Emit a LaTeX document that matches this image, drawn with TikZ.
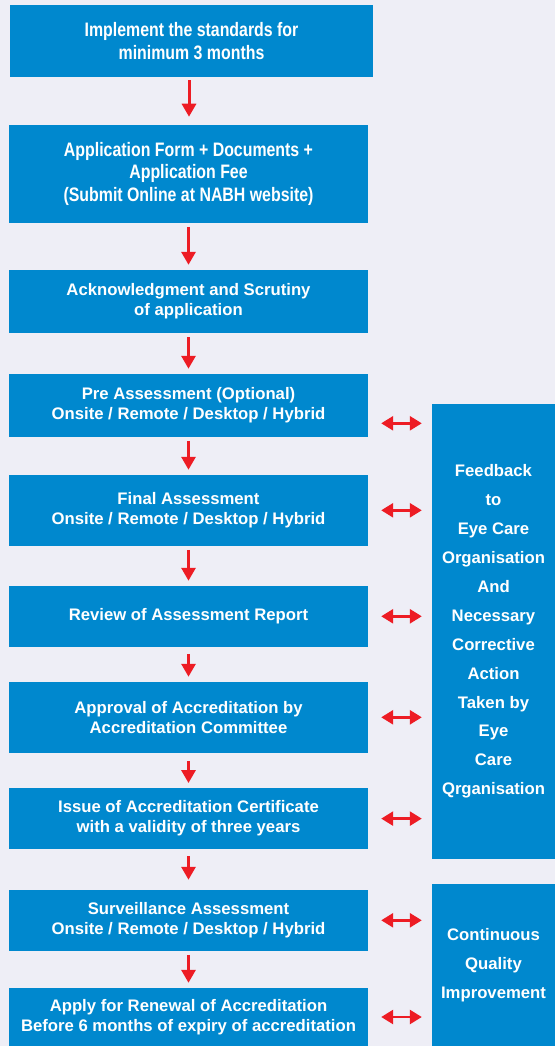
\documentclass[tikz,border=0pt]{standalone}
\usepackage{fontspec}
\setmainfont{Liberation Sans}
\newfontfamily\condfont{Liberation Sans}[FakeStretch=0.815]
\usetikzlibrary{arrows.meta}
\definecolor{bgc}{RGB}{238,238,246}
\definecolor{boxblue}{RGB}{0,136,206}
\definecolor{arrred}{RGB}{237,28,36}
\tikzset{
  stepbox/.style={fill=boxblue, text=white, inner sep=0pt, align=center,
    minimum width=359pt, font=\bfseries\fontsize{16.7}{20}\selectfont},
  condbox/.style={stepbox, font=\condfont\bfseries\fontsize{19.5}{22.5}\selectfont},
  sidebox/.style={fill=boxblue, text=white, inner sep=0pt, align=center,
    minimum width=123pt, font=\bfseries\fontsize{16.7}{28.9}\selectfont},
  downarr/.style={draw=arrred, line width=3pt, -{Triangle[length=13pt,width=14pt]},
    shorten <=4pt, shorten >=5pt},
  dblarr/.style={draw=arrred, line width=2.6pt,
    {Triangle[length=12pt,width=14pt]}-{Triangle[length=12pt,width=14pt]}}
}
\begin{document}
\begin{tikzpicture}[x=1pt,y=-1pt]
\fill[bgc] (0,0) rectangle (555,1046);
\useasboundingbox (0,0) rectangle (555,1046);

\node[condbox, minimum width=363pt, minimum height=72pt] (b1) at (191.5,41)
  {Implement the standards for\\minimum 3 months};
\node[condbox, minimum height=97.7pt] (b2) at (188.5,173.8)
  {Application Form + Documents +\\Application Fee\\(Submit Online at NABH website)};
\node[stepbox, minimum height=63pt] (b3) at (188.5,301.5)
  {Acknowledgment and Scrutiny\\of application};
\node[stepbox, minimum height=62.7pt] (b4) at (188.5,405.3)
  {Pre Assessment (Optional)\\Onsite / Remote / Desktop / Hybrid};
\node[stepbox, minimum height=70.7pt] (b5) at (188.5,510.3)
  {Final Assessment\\Onsite / Remote / Desktop / Hybrid};
\node[stepbox, minimum height=60.7pt] (b6) at (188.5,616.3)
  {Review of Assessment Report};
\node[stepbox, minimum height=70.7pt] (b7) at (188.5,717.3)
  {Approval of Accreditation by\\Accreditation Committee};
\node[stepbox, minimum height=60.7pt] (b8) at (188.5,818.6)
  {Issue of Accreditation Certificate\\with a validity of three years};
\node[stepbox, minimum height=60.7pt] (b9) at (188.5,920.3)
  {Surveillance Assessment\\Onsite / Remote / Desktop / Hybrid};
\node[stepbox, minimum height=58pt] (b10) at (188.5,1017)
  {Apply for Renewal of Accreditation\\Before 6 months of expiry of accreditation};

\node[sidebox, minimum height=455pt] (fb) at (493.5,631.5)
  {Feedback\\to\\Eye Care\\Organisation\\And\\Necessary\\Corrective\\Action\\Taken by\\Eye\\Care\\Qrganisation};
\node[sidebox, minimum height=162pt] (cq) at (493.5,965)
  {Continuous\\Quality\\Improvement};

\draw[downarr, shorten >=8pt, shorten <=3pt] ([xshift=-2.5pt]b1.south) -- ([xshift=-2.5pt]b1.south |- b2.north);
\draw[downarr] (b2) -- (b3);
\draw[downarr] (b3) -- (b4);
\draw[downarr] (b4) -- (b5);
\draw[downarr] (b5) -- (b6);
\draw[downarr, shorten <=7pt] (b6) -- (b7);
\draw[downarr, shorten <=8pt] (b7) -- (b8);
\draw[downarr, shorten <=7pt, shorten >=10pt] (b8) -- (b9);
\draw[downarr] (b9) -- (b10);

\draw[dblarr] ([xshift=13pt,yshift=-18pt]b4.east) -- ([xshift=-10pt,yshift=-18pt]b4.east -| fb.west);
\foreach \b in {b5,b6,b7,b8}
  \draw[dblarr] ([xshift=13pt]\b.east) -- ([xshift=-10pt]\b.east -| fb.west);
\foreach \b in {b9,b10}
  \draw[dblarr] ([xshift=13pt]\b.east) -- ([xshift=-10pt]\b.east -| cq.west);
\end{tikzpicture}
\end{document}
